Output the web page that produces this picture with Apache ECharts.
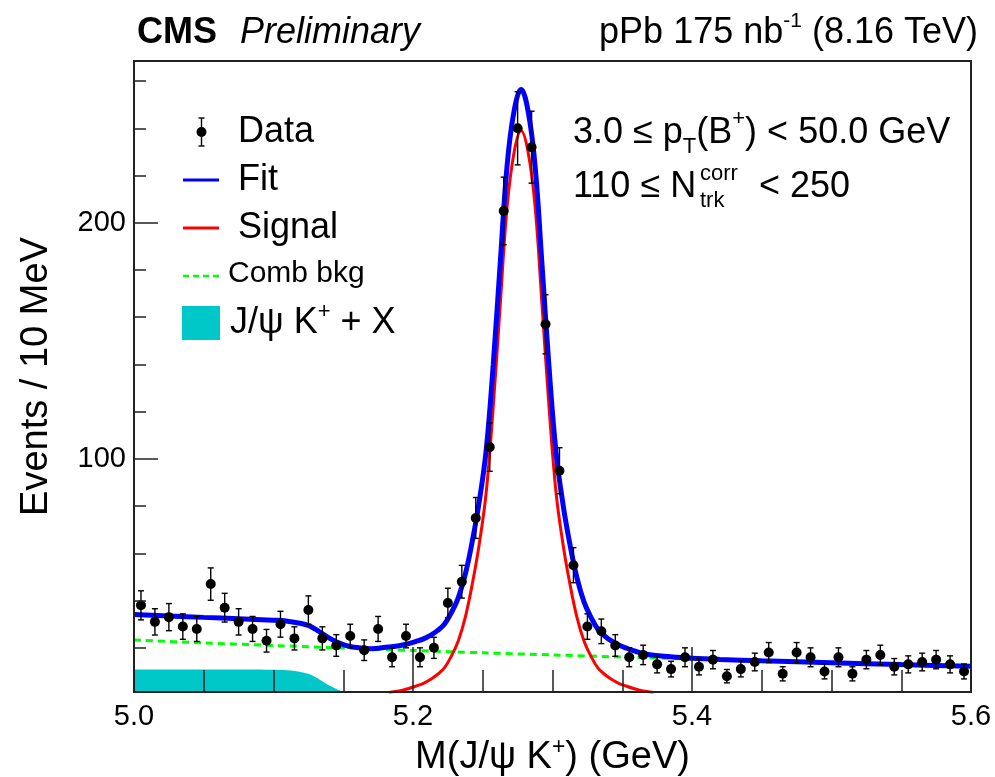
<!DOCTYPE html>
<html><head><meta charset="utf-8">
<script src="https://cdn.jsdelivr.net/npm/echarts@6/dist/echarts.min.js"></script>
<style>html,body{margin:0;padding:0;background:#fff}#c{width:995px;height:777px}</style>
</head><body><div id="c"></div>
<script>
// ---- data ----
const binCenters = [5.005,5.015,5.025,5.035,5.045,5.055,5.065,5.075,5.085,5.095,
  5.105,5.115,5.125,5.135,5.145,5.155,5.165,5.175,5.185,5.195,
  5.205,5.215,5.225,5.235,5.245,5.255,5.265,5.275,5.285,5.295,
  5.305,5.315,5.325,5.335,5.345,5.355,5.365,5.375,5.385,5.395,
  5.405,5.415,5.425,5.435,5.445,5.455,5.465,5.475,5.485,5.495,
  5.505,5.515,5.525,5.535,5.545,5.555,5.565,5.575,5.585,5.595];
const dataCounts = [38,31,33,29,28,47,37,31,28,23,
  30,24,36,24,21,25,19,28,16,25,
  16,20,39,48,75,105,205,240,232,157,
  95,55,29,27,21,16,17,13,11,16,
  12,15,8,11,14,18,9,18,16,10,
  16,9,15,17,12,13,14,15,13,10];

const fitMass = [5.000,5.025,5.050,5.075,5.100,5.110,5.120,5.125,5.130,5.135,5.140,5.145,5.150,5.155,5.160,5.170,
  5.1825,5.1875,5.1925,5.1975,5.2025,5.2075,5.2125,5.2175,5.2225,5.2275,5.2325,5.2375,5.2425,5.2475,5.2525,5.2575,5.2625,5.2675,5.2725,
  5.2775,5.2825,5.2875,5.2925,5.2975,5.3025,5.3075,5.3125,5.3175,5.3225,5.3275,5.3325,5.3375,5.3425,5.3475,5.3525,5.3575,5.3625,5.3675,5.3725,
  5.380,5.390,5.400,5.420,5.450,5.500,5.550,5.600];
const fitVals = [34.1,33.5,32.9,32.35,31.7,31.3,30.3,29.45,27.9,26.0,24.1,22.6,21.4,20.6,20.1,19.6,
  20.4,20.7,21.2,21.9,22.8,23.8,25.3,27.3,30.0,34.9,41.3,51.2,65.1,82.0,103.9,139.8,182.7,224.6,247.5,
  256.4,247.3,224.2,182.1,139.0,103.0,80.9,63.8,49.7,39.6,33.0,27.9,25.0,22.8,21.2,20.0,18.9,18.0,17.3,16.85,
  16.4,16.0,15.6,15.1,14.5,13.7,12.9,12.2];

const sigMass = [5.1825,5.1875,5.1925,5.1975,5.2025,5.2075,5.2125,5.2175,5.2225,5.2275,5.2325,5.2375,5.2425,5.2475,5.2525,5.2575,5.2625,5.2675,5.2725,
  5.2775,5.2825,5.2875,5.2925,5.2975,5.3025,5.3075,5.3125,5.3175,5.3225,5.3275,5.3325,5.3375,5.3425,5.3475,5.3525,5.3575,5.3625,5.3675,5.3725];
const sigVals = [1.1,1.5,2.1,2.9,3.9,5.0,6.6,8.7,11.5,16.5,23,33,47,64,86,122,165,207,230,
  239,230,207,165,122,86,64,47,33,23,16.5,11.5,8.7,6.6,5.0,3.9,2.9,2.1,1.5,1.1];

const combMass = [5.00,5.05,5.10,5.15,5.20,5.25,5.30,5.35,5.40,5.45,5.50,5.55,5.60];
const combVals = [23.3,22.1,21.0,19.9,18.9,17.9,17.0,16.1,15.3,14.5,13.7,12.9,12.2];

const jpsiMass = [5.00,5.02,5.04,5.06,5.08,5.10,5.11,5.12,5.125,5.13,5.135,5.14,5.145,5.15,5.155,5.16,5.17];
const jpsiVals = [10.8,10.8,10.8,10.8,10.8,10.7,10.5,9.7,9.0,7.6,5.8,4.0,2.6,1.5,0.8,0.4,0.1];

const xTicks = [5.0,5.2,5.4,5.6];
const yMajorTicks = [100,200];
const yMinorTicks = [20,40,60,80,120,140,160,180,220,240,260];
const Y_MIN = 1.3, Y_MAX = 268.5;

// ---- build ----
const FF = '"Liberation Sans", Arial, Helvetica, sans-serif';
const zip = (a,b)=>a.map((v,i)=>[v,b[i]]);
const errData = binCenters.map((x,i)=>{const n=dataCounts[i], e=Math.sqrt(n); return [x,n,n-e,n+e];});

const chart = echarts.init(document.getElementById('c'), null, {renderer:'canvas'});
const option = {
  animation:false,
  backgroundColor:'#fff',
  grid:{left:134,right:24,top:61,bottom:85,containLabel:false,outerBoundsMode:'none',
    show:true,borderColor:'#222',borderWidth:2,backgroundColor:'transparent'},
  xAxis:{type:'value',min:5.0,max:5.6,interval:0.2,z:10,
    axisLine:{show:true,onZero:false,lineStyle:{color:'#222',width:2}},
    axisTick:{show:true,inside:true,length:45,lineStyle:{color:'#222',width:1.5}},
    minorTick:{show:true,splitNumber:4,length:22,lineStyle:{color:'#222',width:1.5}},
    splitLine:{show:false},minorSplitLine:{show:false},
    axisLabel:{color:'#000',fontSize:29,fontFamily:FF,margin:10,formatter:v=>xTicks.some(t=>Math.abs(t-v)<1e-6)?v.toFixed(1):''},
    name:'{a|M(J/ψ K}{s|+}{a|) (GeV)}',nameLocation:'middle',nameGap:34,
    nameTextStyle:{rich:{a:{fontSize:38,fontFamily:FF,color:'#000',lineHeight:44},s:{fontSize:23,fontFamily:FF,color:'#000',lineHeight:30,verticalAlign:'top'}}}
  },
  yAxis:[{type:'value',min:Y_MIN,max:Y_MAX,z:10,
    axisLine:{show:true,onZero:false,lineStyle:{color:'#222',width:2}},
    axisTick:{show:true,inside:true,length:24,customValues:yMajorTicks,lineStyle:{color:'#222',width:1.5}},
    axisLabel:{show:true,customValues:yMajorTicks,color:'#000',fontSize:29,fontFamily:FF,margin:8},
    splitLine:{show:false},
    name:'Events / 10 MeV',nameLocation:'middle',nameGap:78,
    nameTextStyle:{fontSize:38,fontFamily:FF,color:'#000'}
  },{type:'value',min:Y_MIN,max:Y_MAX,position:'left',z:10,
    axisLine:{show:false},
    axisTick:{show:true,inside:true,length:12,customValues:yMinorTicks,lineStyle:{color:'#222',width:1.5}},
    axisLabel:{show:false},splitLine:{show:false}
  }],
  series:[
    {type:'line',name:'jpsi',data:zip(jpsiMass,jpsiVals),showSymbol:false,smooth:0.3,clip:true,
      lineStyle:{width:0,color:'#00c8c8'},areaStyle:{color:'#00c8c8',opacity:1,origin:'start'},z:1},
    {type:'line',name:'comb',data:zip(combMass,combVals),showSymbol:false,smooth:0.3,clip:true,
      lineStyle:{width:3,color:'#00ff00',type:[7,5]},z:2},
    {type:'line',name:'signal',data:zip(sigMass,sigVals),showSymbol:false,smooth:0.4,clip:true,
      lineStyle:{width:3,color:'#ff0000'},z:3},
    {type:'line',name:'fit',data:zip(fitMass,fitVals),showSymbol:false,smooth:0.4,clip:true,
      lineStyle:{width:5,color:'#0000ff'},z:4},
    {type:'custom',name:'err',data:errData,z:5,clip:true,
      renderItem:function(params,api){
        const x=api.value(0),lo=api.value(2),hi=api.value(3);
        const a=api.coord([x,lo]),b=api.coord([x,hi]);const c=3;
        const st={stroke:'#000',lineWidth:1.4};
        return {type:'group',children:[
          {type:'line',shape:{x1:a[0],y1:a[1],x2:b[0],y2:b[1]},style:st},
          {type:'line',shape:{x1:a[0]-c,y1:a[1],x2:a[0]+c,y2:a[1]},style:st},
          {type:'line',shape:{x1:b[0]-c,y1:b[1],x2:b[0]+c,y2:b[1]},style:st}
        ]};
      }},
    {type:'scatter',name:'Data',data:zip(binCenters,dataCounts),symbol:'circle',symbolSize:10,
      itemStyle:{color:'#000',opacity:1},z:6}
  ],
  graphic:[
    {type:'text',x:137,y:33,style:{text:'CMS',font:'bold 36px '+FF,fill:'#000',textAlign:'left',textVerticalAlign:'middle'}},
    {type:'text',x:240,y:33,style:{text:'Preliminary',font:'italic 36px '+FF,fill:'#000',textAlign:'left',textVerticalAlign:'middle'}},
    {type:'text',x:978,y:33,style:{text:'{a|pPb 175 nb}{s|-1}{a| (8.16 TeV)}',textAlign:'right',textVerticalAlign:'middle',
      rich:{a:{fontSize:36,fontFamily:FF,fill:'#000',lineHeight:44},s:{fontSize:21,fontFamily:FF,fill:'#000',lineHeight:28,verticalAlign:'top'}}}},
    {type:'text',x:573,y:133,style:{text:'{a|3.0 ≤ p}{b|T}{a|(B}{s|+}{a|) < 50.0 GeV}',textAlign:'left',textVerticalAlign:'middle',
      rich:{a:{fontSize:36,fontFamily:FF,fill:'#000',lineHeight:50},b:{fontSize:22,fontFamily:FF,fill:'#000',lineHeight:24,verticalAlign:'bottom'},
            s:{fontSize:22,fontFamily:FF,fill:'#000',lineHeight:30,verticalAlign:'top'}}}},
    {type:'text',x:573,y:187,style:{text:'110 ≤ N',font:'36px '+FF,fill:'#000',textAlign:'left',textVerticalAlign:'middle'}},
    {type:'text',x:700,y:174,style:{text:'corr',font:'22px '+FF,fill:'#000',textAlign:'left',textVerticalAlign:'middle'}},
    {type:'text',x:700,y:201,style:{text:'trk',font:'22px '+FF,fill:'#000',textAlign:'left',textVerticalAlign:'middle'}},
    {type:'text',x:759,y:187,style:{text:'< 250',font:'36px '+FF,fill:'#000',textAlign:'left',textVerticalAlign:'middle'}},
    // legend
    {type:'line',shape:{x1:201.5,y1:118,x2:201.5,y2:146},style:{stroke:'#000',lineWidth:1.4}},
    {type:'line',shape:{x1:198.5,y1:118,x2:204.5,y2:118},style:{stroke:'#000',lineWidth:1.4}},
    {type:'line',shape:{x1:198.5,y1:146,x2:204.5,y2:146},style:{stroke:'#000',lineWidth:1.4}},
    {type:'circle',shape:{cx:201.5,cy:132,r:5},style:{fill:'#000'}},
    {type:'text',x:238,y:132,style:{text:'Data',font:'36px '+FF,fill:'#000',textAlign:'left',textVerticalAlign:'middle'}},
    {type:'line',shape:{x1:183,y1:180,x2:219,y2:180},style:{stroke:'#0000ff',lineWidth:3}},
    {type:'text',x:238,y:180,style:{text:'Fit',font:'36px '+FF,fill:'#000',textAlign:'left',textVerticalAlign:'middle'}},
    {type:'line',shape:{x1:183,y1:228,x2:219,y2:228},style:{stroke:'#ff0000',lineWidth:3}},
    {type:'text',x:238,y:228,style:{text:'Signal',font:'36px '+FF,fill:'#000',textAlign:'left',textVerticalAlign:'middle'}},
    {type:'line',shape:{x1:183,y1:276,x2:222,y2:276},style:{stroke:'#00ff00',lineWidth:2.5,lineDash:[6,4]}},
    {type:'text',x:228,y:274,style:{text:'Comb bkg',font:'30px '+FF,fill:'#000',textAlign:'left',textVerticalAlign:'middle'}},
    {type:'rect',shape:{x:182,y:306,width:38,height:34},style:{fill:'#00c8c8'}},
    {type:'text',x:230,y:323,style:{text:'{a|J/ψ K}{s|+}{a| + X}',textAlign:'left',textVerticalAlign:'middle',
      rich:{a:{fontSize:36,fontFamily:FF,fill:'#000',lineHeight:44},s:{fontSize:22,fontFamily:FF,fill:'#000',lineHeight:30,verticalAlign:'top'}}}}
  ]
};
chart.setOption(option);
</script></body></html>
